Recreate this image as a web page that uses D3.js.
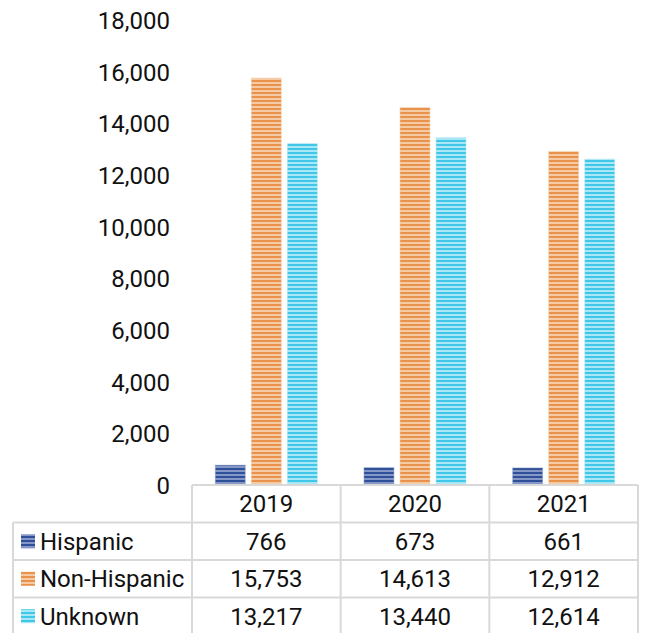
<!DOCTYPE html>
<html>
<head>
<meta charset="utf-8">
<script src="https://cdn.jsdelivr.net/npm/d3@7"></script>
<style>
  html, body { margin: 0; padding: 0; background: #fff; }
  svg { display: block; font-family: Roboto, "Noto Sans", sans-serif; }
</style>
</head>
<body>
<svg id="chart" width="646" height="633"></svg>
<script>
// Yearly counts by ethnicity
const years = ["2019", "2020", "2021"];
const seriesNames = ["Hispanic", "Non-Hispanic", "Unknown"];
const hispanic = [766, 673, 661];
const nonHispanic = [15753, 14613, 12912];
const unknown = [13217, 13440, 12614];
const yTicks = [0, 2000, 4000, 6000, 8000, 10000, 12000, 14000, 16000, 18000];

const seriesValues = [hispanic, nonHispanic, unknown];
const stripeColors = [
  { dark: "#2f4f98", light: "#8497c6" },
  { dark: "#e8924c", light: "#f5cba6" },
  { dark: "#40c6e6", light: "#a9e7f6" }
];

const svg = d3.select("#chart");
const fmt = d3.format(",");
const fontSize = 24;

// Plot region
const plotLeft = 192, plotRight = 638, plotTop = 20, plotBottom = 485;
const tableLeft = 13;
const rowH = 37.5;

const x = d3.scaleBand().domain(years).range([plotLeft, plotRight]).paddingInner(0).paddingOuter(0);
const y = d3.scaleLinear().domain([0, 18000]).range([plotBottom, plotTop]);
const groupWidth = 102;
const xs = d3.scaleBand().domain(seriesNames).range([0, groupWidth]).paddingInner(0.17).paddingOuter(0);

// Horizontal stripe fills
const defs = svg.append("defs");
stripeColors.forEach((c, i) => {
  const p = defs.append("pattern")
    .attr("id", "stripe" + i)
    .attr("patternUnits", "userSpaceOnUse")
    .attr("width", 8).attr("height", 4);
  p.append("rect").attr("width", 8).attr("height", 4).attr("fill", c.light);
  p.append("rect").attr("width", 8).attr("height", 2).attr("fill", c.dark);
});

// Y axis labels (no axis line)
const yAxis = d3.axisLeft(y).tickValues(yTicks).tickFormat(fmt).tickSize(0).tickPadding(0);
const yg = svg.append("g").attr("transform", `translate(170,0)`).call(yAxis);
yg.select(".domain").remove();
yg.selectAll("text")
  .attr("font-size", fontSize)
  .attr("font-family", "Roboto, sans-serif")
  .attr("fill", "#111")
  .attr("dy", "0.35em");

// Bars
const groups = svg.append("g").selectAll("g")
  .data(years)
  .join("g")
  .attr("transform", d => `translate(${x(d) + (x.bandwidth() - groupWidth) / 2},0)`);

groups.selectAll("rect")
  .data((d, i) => seriesNames.map((s, j) => ({ s, j, v: seriesValues[j][i] })))
  .join("rect")
  .attr("x", d => xs(d.s))
  .attr("y", d => y(d.v))
  .attr("width", xs.bandwidth())
  .attr("height", d => plotBottom - y(d.v))
  .attr("fill", d => `url(#stripe${d.j})`)
  .attr("stroke", d => stripeColors[d.j].light)
  .attr("stroke-opacity", 0.5)
  .attr("stroke-width", 1);

// Data table
const lineColor = "#d9d9d9";
const table = svg.append("g").attr("stroke", lineColor).attr("stroke-width", 2).attr("fill", "none");
const tableBottom = plotBottom + rowH * 4;

// horizontal lines
table.append("line").attr("x1", plotLeft).attr("x2", plotRight).attr("y1", plotBottom).attr("y2", plotBottom);
for (let r = 1; r <= 4; r++) {
  const yy = plotBottom + rowH * r;
  table.append("line").attr("x1", tableLeft).attr("x2", plotRight).attr("y1", yy).attr("y2", yy);
}
// vertical lines
table.append("line").attr("x1", tableLeft).attr("x2", tableLeft).attr("y1", plotBottom + rowH).attr("y2", tableBottom);
const colEdges = [plotLeft, ...years.map(yr => x(yr) + x.bandwidth())];
colEdges.forEach(cx => {
  table.append("line").attr("x1", cx).attr("x2", cx).attr("y1", plotBottom).attr("y2", tableBottom);
});

const textG = svg.append("g").attr("font-size", fontSize).attr("fill", "#111");

// header row
textG.selectAll(".yr").data(years).join("text")
  .attr("class", "yr")
  .attr("x", d => x(d) + x.bandwidth() / 2)
  .attr("y", plotBottom + rowH / 2)
  .attr("dy", "0.35em")
  .attr("text-anchor", "middle")
  .text(d => d);

// series rows
seriesNames.forEach((s, j) => {
  const cy = plotBottom + rowH * (j + 1) + rowH / 2;
  svg.append("rect")
    .attr("x", 21).attr("y", cy - 7)
    .attr("width", 14).attr("height", 14)
    .attr("fill", `url(#stripe${j})`);
  textG.append("text")
    .attr("x", 40).attr("y", cy).attr("dy", "0.35em")
    .text(s);
  textG.selectAll(".v" + j).data(seriesValues[j]).join("text")
    .attr("class", "v" + j)
    .attr("x", (d, i) => x(years[i]) + x.bandwidth() / 2)
    .attr("y", cy).attr("dy", "0.35em")
    .attr("text-anchor", "middle")
    .text(d => fmt(d));
});
</script>
</body>
</html>
